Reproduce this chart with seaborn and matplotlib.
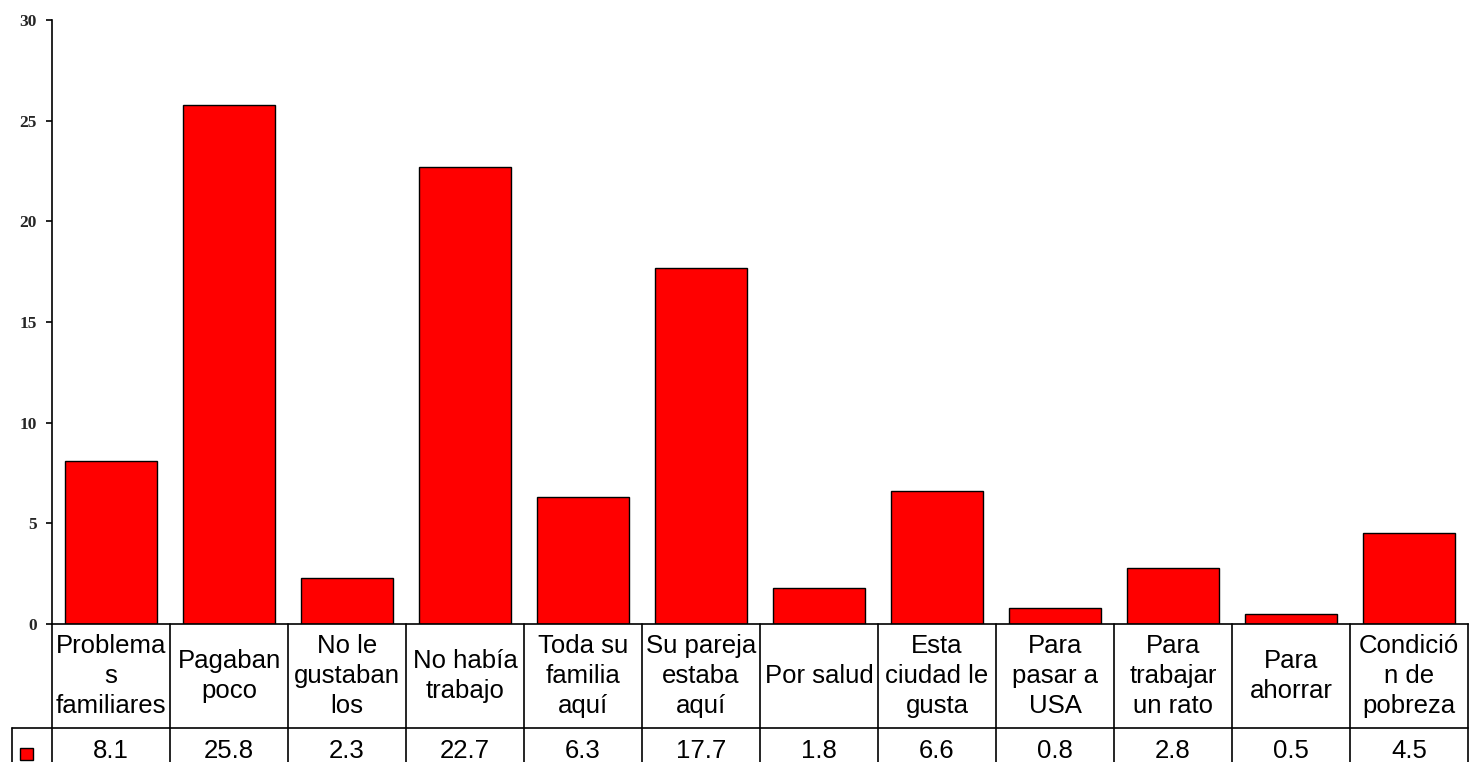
import matplotlib
matplotlib.use("Agg")
import matplotlib.pyplot as plt
import matplotlib.transforms as mtransforms
from matplotlib.lines import Line2D
from matplotlib.patches import Rectangle
import seaborn as sns
import pandas as pd

categories = ["Problema\ns\nfamiliares", "Pagaban\npoco", "No le\ngustaban\nlos",
              "No había\ntrabajo", "Toda su\nfamilia\naquí", "Su pareja\nestaba\naquí",
              "Por salud", "Esta\nciudad le\ngusta", "Para\npasar a\nUSA",
              "Para\ntrabajar\nun rato", "Para\nahorrar", "Condició\nn de\npobreza"]
values = [8.1, 25.8, 2.3, 22.7, 6.3, 17.7, 1.8, 6.6, 0.8, 2.8, 0.5, 4.5]
value_labels = ["8.1", "25.8", "2.3", "22.7", "6.3", "17.7", "1.8", "6.6", "0.8", "2.8", "0.5", "4.5"]
yticks = [0, 5, 10, 15, 20, 25, 30]
bar_color = "#FF0000"

sns.set_style("white")
plt.rcParams['font.family'] = ['Liberation Sans', 'DejaVu Sans']

W, H = 1470, 762
fig = plt.figure(figsize=(W / 100, H / 100), dpi=100)
x0, x1, ytop, ybot = 52, 1468, 20, 624
ax = fig.add_axes([x0 / W, 1 - ybot / H, (x1 - x0) / W, (ybot - ytop) / H])

df = pd.DataFrame({"cat": categories, "val": values})
sns.barplot(data=df, x="cat", y="val", ax=ax, color=bar_color, saturation=1,
            width=0.78, edgecolor="black", linewidth=1.0)

ax.set_xlim(-0.5, len(categories) - 0.5)
ax.set_ylim(0, 30)
ax.set_yticks(yticks)
ax.set_yticklabels([str(t) for t in yticks], family="Liberation Serif",
                   fontweight="bold", fontsize=12.5)
ax.tick_params(axis="y", direction="out", length=4, width=1.2, color="black", pad=7, left=True)
ax.set_xticks([])
ax.set_xlabel("")
ax.set_ylabel("")
for s in ["top", "right"]:
    ax.spines[s].set_visible(False)
for s in ["left", "bottom"]:
    ax.spines[s].set_color("black")
    ax.spines[s].set_linewidth(1.2)

# data table below the axes
tr = mtransforms.blended_transform_factory(ax.transData, fig.transFigure)
def fy(py):
    return 1 - py / H

y_top = fy(ybot)
y_mid = fy(728)
y_bot = fy(775)
n = len(categories)
lw = 1.2
for i in range(n + 1):
    xb = -0.5 + i
    fig.add_artist(Line2D([xb, xb], [y_top, y_bot], transform=tr, color="black", lw=lw, clip_on=False))
# horizontal divider including legend-key cell
fig.add_artist(Line2D([12 / W, x1 / W], [y_mid, y_mid], transform=fig.transFigure, color="black", lw=lw))
fig.add_artist(Line2D([12 / W, 12 / W], [y_mid, y_bot], transform=fig.transFigure, color="black", lw=lw))

for i, (c, v) in enumerate(zip(categories, value_labels)):
    fig.text(i, fy(676), c, transform=tr, ha="center", va="center", fontsize=18.5,
             linespacing=1.32, color="black")
    fig.text(i, fy(758), v, transform=tr, ha="center", va="baseline", fontsize=18.5, color="black")

fig.add_artist(Rectangle((20 / W, fy(760)), 13 / W, 12 / H, transform=fig.transFigure,
                         facecolor=bar_color, edgecolor="black", lw=1))

fig.savefig("out.png", dpi=100)
